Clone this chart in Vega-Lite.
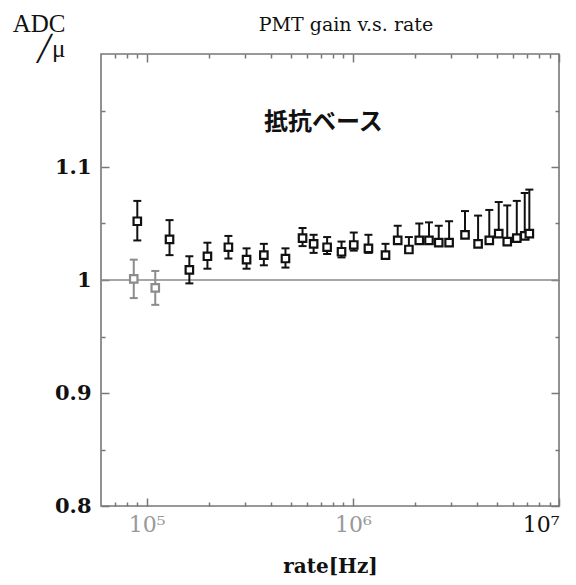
{
  "$schema": "https://vega.github.io/schema/vega-lite/v6.json",
  "width": 458,
  "height": 452,
  "autosize": {"type": "none"},
  "padding": {"left": 101, "top": 54, "right": 17, "bottom": 79},
  "background": "white",
  "title": {"text": "PMT gain v.s. rate", "font": "DejaVu Serif", "fontSize": 19, "fontWeight": "normal", "color": "#111", "offset": -24, "dx": 16, "anchor": "middle"},
  "config": {
    "view": {"stroke": "#777", "strokeWidth": 1.6},
    "axis": {"domain": false, "grid": false, "tickColor": "#777", "tickWidth": 1.5, "titleColor": "#111"}
  },
  "datasets": {
    "pts": [
      {"rate": 86500, "v": 1.001, "lo": 0.984, "hi": 1.018, "s": "g"},
      {"rate": 110000, "v": 0.993, "lo": 0.978, "hi": 1.008, "s": "g"},
      {"rate": 90000, "v": 1.052, "lo": 1.035, "hi": 1.070, "s": "b"},
      {"rate": 129000, "v": 1.036, "lo": 1.022, "hi": 1.053, "s": "b"},
      {"rate": 161000, "v": 1.009, "lo": 0.997, "hi": 1.021, "s": "b"},
      {"rate": 197000, "v": 1.021, "lo": 1.010, "hi": 1.033, "s": "b"},
      {"rate": 249000, "v": 1.029, "lo": 1.019, "hi": 1.039, "s": "b"},
      {"rate": 305000, "v": 1.018, "lo": 1.010, "hi": 1.028, "s": "b"},
      {"rate": 370000, "v": 1.022, "lo": 1.013, "hi": 1.032, "s": "b"},
      {"rate": 471000, "v": 1.019, "lo": 1.011, "hi": 1.028, "s": "b"},
      {"rate": 570000, "v": 1.037, "lo": 1.030, "hi": 1.046, "s": "b"},
      {"rate": 645000, "v": 1.032, "lo": 1.024, "hi": 1.040, "s": "b"},
      {"rate": 750000, "v": 1.029, "lo": 1.023, "hi": 1.038, "s": "b"},
      {"rate": 881000, "v": 1.025, "lo": 1.020, "hi": 1.034, "s": "b"},
      {"rate": 1010000, "v": 1.031, "lo": 1.026, "hi": 1.042, "s": "b"},
      {"rate": 1190000, "v": 1.028, "lo": 1.024, "hi": 1.040, "s": "b"},
      {"rate": 1440000, "v": 1.022, "lo": 1.022, "hi": 1.032, "s": "b"},
      {"rate": 1650000, "v": 1.035, "lo": 1.035, "hi": 1.048, "s": "b"},
      {"rate": 1870000, "v": 1.027, "lo": 1.027, "hi": 1.038, "s": "b"},
      {"rate": 2100000, "v": 1.035, "lo": 1.035, "hi": 1.050, "s": "b"},
      {"rate": 2340000, "v": 1.035, "lo": 1.035, "hi": 1.051, "s": "b"},
      {"rate": 2610000, "v": 1.033, "lo": 1.033, "hi": 1.048, "s": "b"},
      {"rate": 2930000, "v": 1.033, "lo": 1.033, "hi": 1.052, "s": "b"},
      {"rate": 3500000, "v": 1.040, "lo": 1.040, "hi": 1.061, "s": "b"},
      {"rate": 4050000, "v": 1.032, "lo": 1.032, "hi": 1.057, "s": "b"},
      {"rate": 4590000, "v": 1.035, "lo": 1.035, "hi": 1.062, "s": "b"},
      {"rate": 5100000, "v": 1.041, "lo": 1.041, "hi": 1.069, "s": "b"},
      {"rate": 5610000, "v": 1.034, "lo": 1.034, "hi": 1.066, "s": "b"},
      {"rate": 6240000, "v": 1.037, "lo": 1.037, "hi": 1.070, "s": "b"},
      {"rate": 6820000, "v": 1.039, "lo": 1.039, "hi": 1.077, "s": "b"},
      {"rate": 7180000, "v": 1.041, "lo": 1.041, "hi": 1.080, "s": "b"}
    ],
    "ref": [{"y": 1}],
    "lab": [{"rate": 720000, "v": 1.139, "text": "抵抗ベース"}]
  },
  "resolve": {"axis": {"x": "independent", "y": "independent"}},
  "layer": [
    {
      "data": {"name": "ref"},
      "mark": {"type": "rule", "color": "#8a8a8a", "strokeWidth": 1.5},
      "encoding": {
        "y": {"field": "y", "type": "quantitative", "scale": {"domain": [0.8, 1.2], "nice": false, "zero": false}, "axis": null}
      }
    },
    {
      "data": {"name": "pts"},
      "mark": {"type": "rule", "strokeWidth": 2},
      "encoding": {
        "x": {"field": "rate", "type": "quantitative", "scale": {"type": "log", "domain": [60000, 10000000], "nice": false}, "axis": null},
        "y": {"field": "lo", "type": "quantitative", "scale": {"domain": [0.8, 1.2], "nice": false, "zero": false}, "axis": null},
        "y2": {"field": "hi"},
        "color": {"field": "s", "type": "nominal", "scale": {"domain": ["g", "b"], "range": ["#8c8c8c", "#111111"]}, "legend": null}
      }
    },
    {
      "data": {"name": "pts"},
      "mark": {"type": "point", "shape": "M -1 0 L 1 0", "size": 64, "strokeWidth": 2, "filled": false, "opacity": 1},
      "encoding": {
        "x": {"field": "rate", "type": "quantitative", "scale": {"type": "log", "domain": [60000, 10000000], "nice": false}, "axis": null},
        "y": {"field": "hi", "type": "quantitative", "scale": {"domain": [0.8, 1.2], "nice": false, "zero": false}, "axis": null},
        "color": {"field": "s", "type": "nominal", "scale": {"domain": ["g", "b"], "range": ["#8c8c8c", "#111111"]}, "legend": null}
      }
    },
    {
      "data": {"name": "pts"},
      "transform": [{"filter": "datum.lo < datum.v"}],
      "mark": {"type": "point", "shape": "M -1 0 L 1 0", "size": 64, "strokeWidth": 2, "filled": false, "opacity": 1},
      "encoding": {
        "x": {"field": "rate", "type": "quantitative", "scale": {"type": "log", "domain": [60000, 10000000], "nice": false}, "axis": null},
        "y": {"field": "lo", "type": "quantitative", "scale": {"domain": [0.8, 1.2], "nice": false, "zero": false}, "axis": null},
        "color": {"field": "s", "type": "nominal", "scale": {"domain": ["g", "b"], "range": ["#8c8c8c", "#111111"]}, "legend": null}
      }
    },
    {
      "data": {"name": "pts"},
      "mark": {"type": "point", "shape": "square", "size": 56, "strokeWidth": 2.2, "fill": "white", "filled": false, "opacity": 1, "fillOpacity": 1},
      "encoding": {
        "x": {"field": "rate", "type": "quantitative", "scale": {"type": "log", "domain": [60000, 10000000], "nice": false},
          "axis": {"orient": "bottom", "title": "rate[Hz]", "titleFont": "DejaVu Serif", "titleFontWeight": "bold", "titleFontSize": 20, "titlePadding": 17,
            "values": [70000, 80000, 90000, 100000, 200000, 300000, 400000, 500000, 600000, 700000, 800000, 900000, 1000000, 2000000, 3000000, 4000000, 5000000, 6000000, 7000000, 8000000, 9000000, 10000000],
            "labelExpr": "datum.value == 100000 ? '10⁵' : datum.value == 1000000 ? '10⁶' : datum.value == 10000000 ? '10⁷' : ''",
            "labelFont": "DejaVu Serif", "labelFontSize": 22, "labelFlush": true, "labelOverlap": false, "labelPadding": 16,
            "labelColor": {"condition": {"test": "datum.value == 10000000", "value": "#111"}, "value": "#999"},
            "tickSize": {"condition": {"test": "abs(log(datum.value)/LN10 - round(log(datum.value)/LN10)) < 0.001", "value": -8}, "value": -4}}},
        "y": {"field": "v", "type": "quantitative", "scale": {"domain": [0.8, 1.2], "nice": false, "zero": false},
          "axis": {"orient": "left", "title": ["ADC", "╱μ"], "titleAngle": 0, "titleAlign": "right", "titleBaseline": "top", "titleX": -36, "titleY": -43, "titleFont": "Liberation Serif", "titleFontWeight": "normal", "titleFontSize": 25, "titleLineHeight": 25,
            "values": [0.8, 0.85, 0.9, 0.95, 1, 1.05, 1.1, 1.15],
            "labelExpr": "abs(datum.value*10 - round(datum.value*10)) < 0.001 ? (datum.value == 1 ? '1' : format(datum.value, '.1f')) : ''",
            "labelFont": "DejaVu Serif", "labelFontWeight": "bold", "labelFontSize": 21, "labelColor": "#111", "labelPadding": 18, "labelFlush": false, "labelOverlap": false,
            "tickSize": {"condition": {"test": "abs(datum.value*10 - round(datum.value*10)) < 0.001", "value": -8}, "value": -4}}},
        "stroke": {"field": "s", "type": "nominal", "scale": {"domain": ["g", "b"], "range": ["#8c8c8c", "#111111"]}, "legend": null}
      }
    },
    {
      "data": {"name": "lab"},
      "mark": {"type": "text", "font": "Noto Sans CJK JP", "fontWeight": "bold", "fontSize": 24, "color": "#111", "align": "center", "baseline": "middle"},
      "encoding": {
        "text": {"field": "text", "type": "nominal"},
        "x": {"field": "rate", "type": "quantitative", "scale": {"type": "log", "domain": [60000, 10000000], "nice": false},
          "axis": {"orient": "top", "title": null, "labels": false,
            "values": [70000, 80000, 90000, 100000, 200000, 300000, 400000, 500000, 600000, 700000, 800000, 900000, 1000000, 2000000, 3000000, 4000000, 5000000, 6000000, 7000000, 8000000, 9000000, 10000000],
            "tickSize": {"condition": {"test": "abs(log(datum.value)/LN10 - round(log(datum.value)/LN10)) < 0.001", "value": -8}, "value": -4}}},
        "y": {"field": "v", "type": "quantitative", "scale": {"domain": [0.8, 1.2], "nice": false, "zero": false},
          "axis": {"orient": "right", "title": null, "labels": false,
            "values": [0.8, 0.85, 0.9, 0.95, 1, 1.05, 1.1, 1.15],
            "tickSize": {"condition": {"test": "abs(datum.value*10 - round(datum.value*10)) < 0.001", "value": -8}, "value": -4}}}
      }
    }
  ]
}
